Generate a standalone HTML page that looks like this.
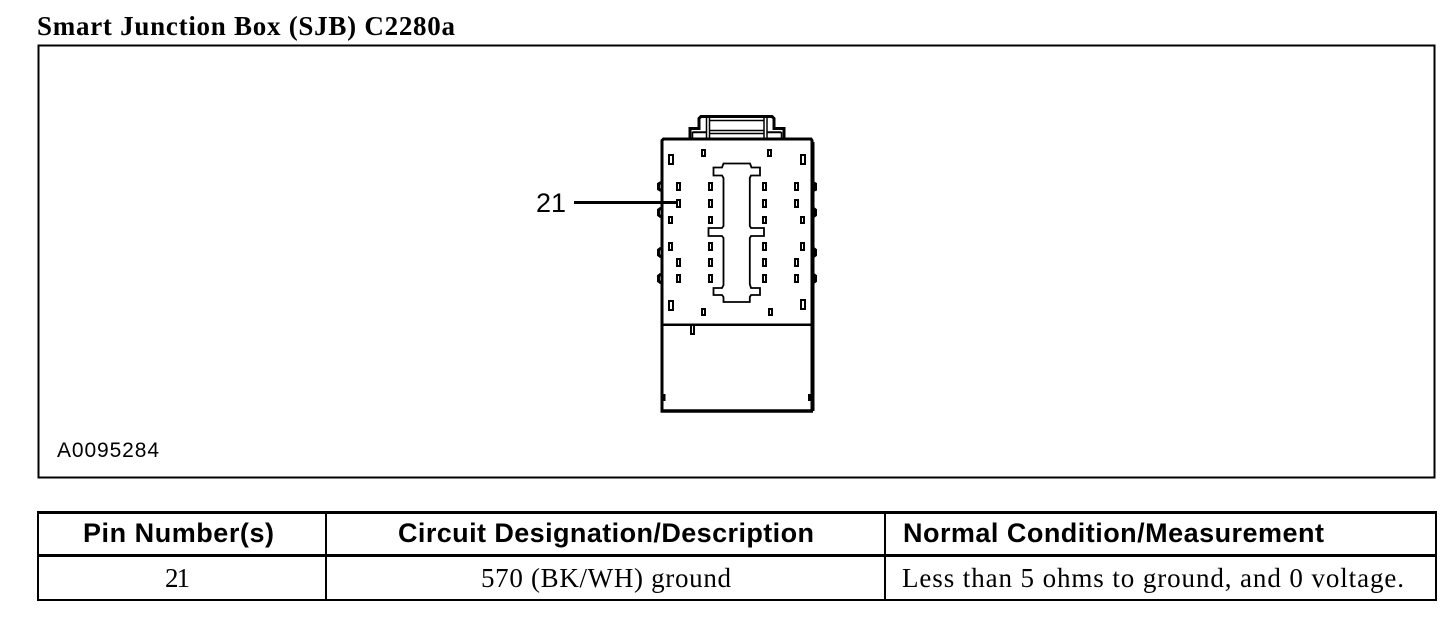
<!DOCTYPE html>
<html lang="en">
<head>
<meta charset="utf-8">
<title>Smart Junction Box (SJB) C2280a</title>
<style>
html,body{margin:0;padding:0;background:#fff;width:1456px;height:622px;overflow:hidden}
svg{display:block}
.serif{font-family:"Liberation Serif",serif;fill:#000}
.sans{font-family:"Liberation Sans",sans-serif;fill:#000}
.b{font-weight:bold}
.pin rect{fill:none;stroke:#000;stroke-width:2}
</style>
</head>
<body>
<svg width="1456" height="622" viewBox="0 0 1456 622" xmlns="http://www.w3.org/2000/svg" shape-rendering="crispEdges">
<text class="serif b" x="37" y="35" font-size="27" textLength="418" lengthAdjust="spacing">Smart Junction Box (SJB) C2280a</text>

<rect x="38.5" y="45.5" width="1396" height="432" fill="none" stroke="#000" stroke-width="2"/>

<!-- Connector -->
<g fill="none" stroke="#000" shape-rendering="auto">
<path d="M690 139V128.500H699V118.500L701 116.500H772L774 118.500V128.500H784V139" stroke-width="3"/>
<path d="M692.500 139V132.500H706.500M706.500 118V139M709.500 118V139M764 118V139M767 118V139M767 132.500H781.500V139M709.500 120.500H764M709.500 130.500H764M709.500 133.500H764M692.500 132H706M767 132H781" stroke-width="1.500"/>
<path d="M662 410.500V140.500L663.500 139H811L812 140.500V410.500" stroke-width="3"/>
<path d="M812.500 142V411" stroke-width="4"/>
<path d="M660.500 411H813" stroke-width="3.500"/>
<path d="M662 324.800H812" stroke-width="2.500"/>
<!-- side clips -->
<path d="M661 182.500 658.500 184V189L661 190.500" stroke-width="3"/>
<path d="M661 208 658.500 210V215L661 217" stroke-width="3"/>
<path d="M661 248 658.500 250V255L661 257" stroke-width="3"/>
<path d="M661 274 658.500 276V281L661 283" stroke-width="3"/>
<path d="M813 182.500 815.500 184V189.500L813 190.500" stroke-width="3"/>
<path d="M813 208 815.500 210V215L813 217" stroke-width="3"/>
<path d="M813 248 815.500 250V255L813 257" stroke-width="3"/>
<path d="M813 274 815.500 276V281L813 283" stroke-width="3"/>
<!-- central opening -->
<path d="M723.500 163.500H750L751.500 167.500H760V175.500H751L749.800 178V226L751 228H764V236H751L749.800 238V284L751 288H760V295H751L749.800 297V302H723.500V297L722 295H713.500V288H722L723.500 285V238L722 236H708.500V228H722L723.500 226V178L722 175.500H713.500V167.500H722Z" stroke-width="1.800"/>
</g>
<g class="pin">
<rect x="702" y="150" width="3" height="6"/><rect x="768" y="150" width="3" height="6"/>
<rect x="669" y="155" width="4" height="9"/><rect x="801" y="155" width="4" height="9"/>

<rect x="677" y="183" width="3" height="7"/><rect x="709" y="183" width="3" height="7"/><rect x="763" y="183" width="3" height="7"/><rect x="795" y="183" width="3" height="7"/>
<rect x="677" y="200" width="3" height="7"/><rect x="709" y="200" width="3" height="7"/><rect x="763" y="200" width="3" height="7"/><rect x="795" y="200" width="3" height="7"/>
<rect x="669" y="217" width="3" height="6"/><rect x="709" y="217" width="3" height="6"/><rect x="763" y="217" width="3" height="6"/><rect x="801" y="217" width="3" height="6"/>
<rect x="669" y="243" width="3" height="7"/><rect x="709" y="243" width="3" height="7"/><rect x="763" y="243" width="3" height="7"/><rect x="801" y="243" width="3" height="7"/>
<rect x="677" y="259" width="3" height="7"/><rect x="709" y="259" width="3" height="7"/><rect x="763" y="259" width="3" height="7"/><rect x="795" y="259" width="3" height="7"/>
<rect x="677" y="275" width="3" height="7"/><rect x="709" y="275" width="3" height="7"/><rect x="763" y="275" width="3" height="7"/><rect x="795" y="275" width="3" height="7"/>

<rect x="669" y="301" width="4" height="9"/><rect x="801" y="300" width="4" height="9"/>
<rect x="702" y="309" width="3" height="6"/><rect x="769" y="309" width="3" height="6"/>
<rect x="691" y="325" width="3" height="9"/>
<rect x="663" y="395" width="1.500" height="5" stroke-width="1"/><rect x="809" y="395" width="1.500" height="5" stroke-width="1"/>
</g>

<!-- Leader -->
<rect x="574" y="201" width="104" height="3" fill="#000"/>
<text class="sans" x="536" y="212" font-size="27" textLength="30" lengthAdjust="spacing">21</text>
<text class="sans" x="57" y="457" font-size="21" textLength="102" lengthAdjust="spacing">A0095284</text>

<!-- Table -->
<g fill="#000">
<rect x="37" y="511" width="1400" height="3"/>
<rect x="37" y="554" width="1400" height="3"/>
<rect x="37" y="599" width="1400" height="2"/>
<rect x="37" y="511" width="2" height="90"/>
<rect x="325" y="511" width="2" height="90"/>
<rect x="884" y="511" width="2" height="90"/>
<rect x="1435" y="511" width="2" height="90"/>
</g>
<text class="sans b" x="83" y="542" font-size="27" textLength="191" lengthAdjust="spacing">Pin Number(s)</text>
<text class="sans b" x="398" y="542" font-size="27" textLength="416" lengthAdjust="spacing">Circuit Designation/Description</text>
<text class="sans b" x="903" y="542" font-size="27" textLength="421" lengthAdjust="spacing">Normal Condition/Measurement</text>
<text class="serif" x="165" y="587" font-size="27" textLength="25" lengthAdjust="spacing">21</text>
<text class="serif" x="481" y="587" font-size="27" textLength="250" lengthAdjust="spacing">570 (BK/WH) ground</text>
<text class="serif" x="902" y="587" font-size="27" textLength="502" lengthAdjust="spacing">Less than 5 ohms to ground, and 0 voltage.</text>
</svg>
</body>
</html>
